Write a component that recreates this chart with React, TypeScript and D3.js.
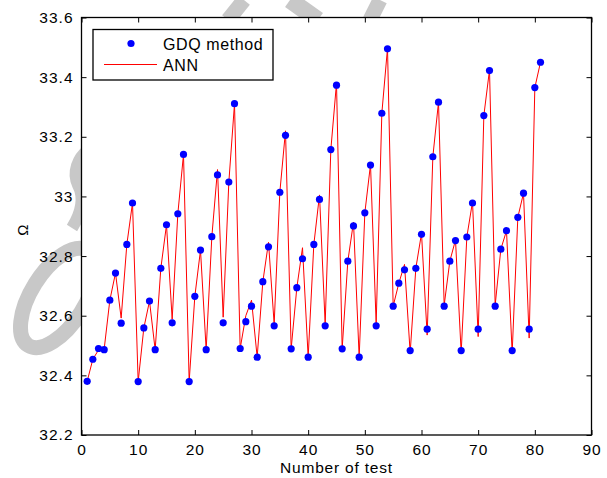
import React, { useEffect, useRef } from "react";
import * as d3 from "d3";

// GDQ results (blue dots) for tests 1..81
const gdq = [
  32.38, 32.454, 32.49, 32.486, 32.652, 32.743, 32.575, 32.839, 32.978, 32.379,
  32.559, 32.649, 32.486, 32.759, 32.905, 32.576, 32.942, 33.141, 32.379, 32.665,
  32.82, 32.486, 32.865, 33.072, 32.576, 33.048, 33.311, 32.49, 32.58, 32.632,
  32.461, 32.714, 32.831, 32.566, 33.014, 33.205, 32.489, 32.694, 32.791, 32.461,
  32.839, 32.99, 32.566, 33.157, 33.373, 32.489, 32.783, 32.901, 32.461, 32.945,
  33.105, 32.566, 33.279, 33.495, 32.632, 32.709, 32.754, 32.483, 32.759, 32.873,
  32.555, 33.133, 33.316, 32.632, 32.783, 32.852, 32.483, 32.864, 32.978, 32.555,
  33.271, 33.422, 32.632, 32.823, 32.885, 32.483, 32.93, 33.011, 32.555, 33.365,
  33.45,
];

// ANN prediction (red line)
const ann = [
  32.38, 32.454, 32.485, 32.488, 32.652, 32.743, 32.592, 32.839, 32.978, 32.379,
  32.559, 32.649, 32.486, 32.759, 32.905, 32.588, 32.942, 33.141, 32.379, 32.665,
  32.82, 32.486, 32.865, 33.09, 32.595, 33.048, 33.311, 32.49, 32.6, 32.652,
  32.461, 32.714, 32.846, 32.572, 33.014, 33.22, 32.489, 32.694, 32.828, 32.461,
  32.839, 33.005, 32.572, 33.157, 33.38, 32.489, 32.783, 32.914, 32.461, 32.945,
  33.107, 32.572, 33.279, 33.497, 32.632, 32.709, 32.772, 32.476, 32.759, 32.876,
  32.535, 33.133, 33.316, 32.635, 32.783, 32.854, 32.476, 32.864, 32.982, 32.53,
  33.271, 33.424, 32.635, 32.823, 32.885, 32.476, 32.93, 33.011, 32.525, 33.365,
  33.45,
];

const xTicks = [0, 10, 20, 30, 40, 50, 60, 70, 80, 90];
const yTicks = [32.2, 32.4, 32.6, 32.8, 33, 33.2, 33.4, 33.6];
const legendLabels = ["GDQ method", "ANN"];

export default function App() {
  const ref = useRef<SVGSVGElement | null>(null);

  useEffect(() => {
    const width = 607;
    const height = 478;
    const margin = { top: 17.5, right: 15.5, bottom: 43, left: 81.5 };
    const innerWidth = width - margin.left - margin.right;
    const innerHeight = height - margin.top - margin.bottom;

    const svg = d3.select(ref.current);
    svg.selectAll("*").remove();

    svg.append("rect").attr("width", width).attr("height", height).attr("fill", "#fff");

    // faint watermark, only visible outside the plot box
    const wm = svg.append("g").attr("fill", "none").attr("stroke", "#c8c8c8");
    wm.append("ellipse")
      .attr("cx", 58).attr("cy", 298).attr("rx", 27).attr("ry", 56)
      .attr("transform", "rotate(32, 58, 298)")
      .attr("stroke-width", 15);
    wm.append("path")
      .attr("d", "M72,228 C80,215 86,200 78,185 C72,172 78,158 88,150")
      .attr("stroke-width", 12);
    wm.append("path").attr("d", "M244,0 L228,20").attr("stroke-width", 15);
    wm.append("path").attr("d", "M290,0 L318,20").attr("stroke-width", 17);
    wm.append("path").attr("d", "M380,0 L370,20").attr("stroke-width", 15);

    const g = svg.append("g").attr("transform", `translate(${margin.left},${margin.top})`);

    const x = d3.scaleLinear().domain([0, 90]).range([0, innerWidth]);
    const y = d3.scaleLinear().domain([32.2, 33.6]).range([innerHeight, 0]);

    g.append("rect").attr("width", innerWidth).attr("height", innerHeight).attr("fill", "#fff");

    const font = "'Liberation Sans', Arial, Helvetica, sans-serif";
    const tickLen = 5;

    // axes: bottom/left with labels, top/right mirrored ticks
    const styleAxis = (sel: d3.Selection<SVGGElement, unknown, null, undefined>) => {
      sel.select(".domain").remove();
      sel.selectAll(".tick line").attr("stroke", "#000").attr("stroke-width", 1);
      sel.selectAll(".tick text")
        .attr("font-family", font)
        .attr("font-size", 15.5)
        .attr("letter-spacing", 1)
        .attr("fill", "#000");
    };

    g.append("g")
      .attr("transform", `translate(0,${innerHeight})`)
      .call(d3.axisBottom(x).tickValues(xTicks).tickSizeInner(-tickLen).tickSizeOuter(0).tickPadding(9).tickFormat(d3.format("d")))
      .call(styleAxis);
    g.append("g")
      .call(d3.axisTop(x).tickValues(xTicks).tickSizeInner(-tickLen).tickSizeOuter(0).tickFormat(() => ""))
      .call(styleAxis);
    g.append("g")
      .call(d3.axisLeft(y).tickValues(yTicks).tickSizeInner(-tickLen).tickSizeOuter(0).tickPadding(8).tickFormat(d3.format("~g")))
      .call(styleAxis);
    g.append("g")
      .attr("transform", `translate(${innerWidth},0)`)
      .call(d3.axisRight(y).tickValues(yTicks).tickSizeInner(-tickLen).tickSizeOuter(0).tickFormat(() => ""))
      .call(styleAxis);

    g.append("rect")
      .attr("width", innerWidth)
      .attr("height", innerHeight)
      .attr("fill", "none")
      .attr("stroke", "#000")
      .attr("stroke-width", 1.3);

    // ANN line
    const line = d3.line<number>()
      .x((_, i) => x(i + 1))
      .y(d => y(d));
    g.append("path")
      .datum(ann)
      .attr("d", line)
      .attr("fill", "none")
      .attr("stroke", "#ff0000")
      .attr("stroke-width", 1);

    // GDQ dots
    g.selectAll("circle.gdq")
      .data(gdq)
      .enter()
      .append("circle")
      .attr("class", "gdq")
      .attr("cx", (_, i) => x(i + 1))
      .attr("cy", d => y(d))
      .attr("r", 3.6)
      .attr("fill", "#0000ff");

    // axis titles
    svg.append("text")
      .attr("x", margin.left + innerWidth / 2)
      .attr("y", 473)
      .attr("text-anchor", "middle")
      .attr("font-family", font)
      .attr("font-size", 15.5)
      .attr("letter-spacing", 0.8)
      .text("Number of test");

    svg.append("text")
      .attr("transform", `translate(27.5, ${margin.top + innerHeight / 2 + 4}) rotate(-90)`)
      .attr("text-anchor", "middle")
      .attr("font-family", font)
      .attr("font-size", 15)
      .text("Ω");

    // legend
    const lg = svg.append("g").attr("transform", "translate(93,29.5)");
    lg.append("rect")
      .attr("width", 180)
      .attr("height", 50.5)
      .attr("fill", "#fff")
      .attr("stroke", "#000")
      .attr("stroke-width", 1.3);
    lg.append("circle").attr("cx", 38).attr("cy", 14).attr("r", 3.6).attr("fill", "#0000ff");
    lg.append("line")
      .attr("x1", 11).attr("x2", 64).attr("y1", 35).attr("y2", 35)
      .attr("stroke", "#ff0000").attr("stroke-width", 1);
    lg.selectAll("text")
      .data(legendLabels)
      .enter()
      .append("text")
      .attr("x", 70)
      .attr("y", (_, i) => 20 + i * 21)
      .attr("font-family", font)
      .attr("font-size", 16)
      .attr("letter-spacing", 0.6)
      .text(d => d);
  }, []);

  return (
    <svg
      ref={ref}
      width={607}
      height={478}
      style={{ position: "absolute", left: 0, top: 0, display: "block" }}
    />
  );
}
